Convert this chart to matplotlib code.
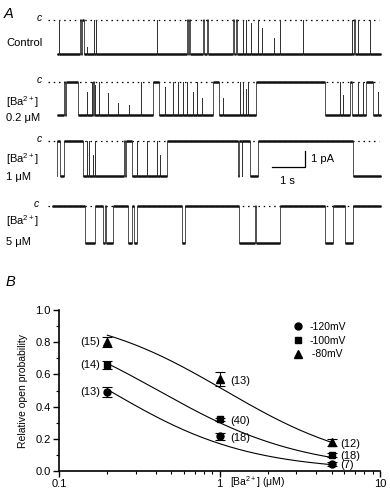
import matplotlib
matplotlib.use("Agg")
import matplotlib.pyplot as plt
from matplotlib.lines import Line2D
import numpy as np

plt.rcParams['font.family'] = ['Liberation Sans', 'DejaVu Sans']
plt.rcParams['mathtext.fontset'] = 'custom'
plt.rcParams['mathtext.rm'] = 'Liberation Sans'
plt.rcParams['mathtext.it'] = 'Liberation Sans:italic'

# ---- panel A: single channel records (time s, open fraction) ----
sweep_end = 9.82
# (start, end, open fraction); base level 1 = open, 0 = closed
control_events = [(0.05, 0.07, 0), (0.69, 0.72, 0), (0.75, 0.82, 0), (0.91, 0.92, 0.8),
                  (1.12, 1.13, 0), (1.17, 1.19, 0), (3.03, 3.04, 0), (3.93, 3.96, 0),
                  (3.99, 4.02, 0), (4.43, 4.45, 0), (4.55, 4.57, 0), (5.32, 5.37, 0),
                  (5.43, 5.45, 0), (5.63, 5.64, 0), (5.72, 5.73, 0), (5.88, 5.89, 0.1),
                  (6.09, 6.10, 0), (6.21, 6.22, 0.25), (6.57, 6.58, 0.55), (6.75, 6.76, 0),
                  (7.45, 7.46, 0), (8.93, 8.94, 0), (9.01, 9.02, 0), (9.12, 9.13, 0),
                  (9.48, 9.49, 0)]
ba02_events = [(0.22, 0.23, 0), (0.27, 0.64, 0), (0.91, 0.92, 0.3), (1.06, 1.07, 0),
               (1.10, 1.11, 0), (1.15, 1.16, 0.1), (1.27, 1.28, 0), (1.54, 1.55, 0.35),
               (1.85, 1.86, 0.65), (2.18, 2.19, 0.7), (2.54, 2.55, 0), (2.91, 3.09, 0),
               (3.27, 3.28, 0.15), (3.51, 3.52, 0), (3.67, 3.68, 0), (3.82, 3.83, 0),
               (3.94, 3.95, 0), (4.12, 4.13, 0.3), (4.24, 4.25, 0), (4.39, 4.40, 0.5),
               (4.73, 4.91, 0), (5.03, 5.04, 0.5), (5.55, 5.56, 0), (5.64, 5.65, 0),
               (5.73, 5.74, 0.2), (5.79, 5.80, 0), (6.03, 8.12, 0), (8.58, 8.59, 0),
               (8.67, 8.68, 0.4), (8.88, 8.94, 0), (9.12, 9.13, 0), (9.27, 9.28, 0),
               (9.36, 9.58, 0), (9.73, 9.74, 0.3)]
ba1_events = [(0.00, 0.08, 0), (0.21, 0.79, 0), (0.91, 0.92, 0), (0.97, 0.98, 0),
              (1.09, 1.10, 0.4), (1.15, 1.16, 0), (2.03, 2.05, 0), (2.09, 2.27, 0),
              (2.42, 2.43, 0), (2.73, 2.74, 0), (3.03, 3.04, 0), (3.12, 3.13, 0.4),
              (3.33, 5.48, 0), (5.50, 5.60, 0), (5.62, 5.85, 0), (6.09, 8.97, 0)]
# base level closed, events are openings
ba5_events = [(0.85, 1.15, 1), (1.39, 1.45, 1), (1.48, 1.70, 1), (2.15, 2.27, 1),
              (2.33, 2.42, 1), (3.79, 3.88, 1), (5.52, 6.00, 1), (6.03, 6.76, 1),
              (8.12, 8.36, 1), (8.73, 8.97, 1)]

trace_events = [control_events, ba02_events, ba1_events, ba5_events]
trace_base = [1, 1, 1, 0]
trace_start = [0.0, 0.0, 0.0, -0.15]
unit_amp = [2.1, 2.05, 2.2, 2.3]   # pA
trace_names = [["Control"], ["[Ba$^{2+}$]", "0.2 μM"], ["[Ba$^{2+}$]", "1 μM"], ["[Ba$^{2+}$]", "5 μM"]]

# ---- panel B: relative open probability ----
ba_conc = [0.2, 1.0, 5.0]
voltages = ["-120mV", "-100mV", " -80mV"]
po_120 = [0.49, 0.215, 0.043]
po_100 = [0.66, 0.32, 0.10]
po_80 = [0.80, 0.57, 0.178]
err_120 = [0.03, 0.02, 0.01]
err_100 = [0.025, 0.012, 0.01]
err_80 = [0.03, 0.045, 0.02]
n_120 = ["(13)", "(18)", "(7)"]
n_100 = ["(14)", "(40)", "(18)"]
n_80 = ["(15)", "(13)", "(12)"]
# Hill fit parameters: IC50 (uM), Hill coefficient
fit_ic50 = [0.205, 0.415, 1.08]
fit_hill = [1.0, 0.96, 1.0]

fig = plt.figure(figsize=(3.9, 5), dpi=100)

# panel A axes in seconds / pA; 33 px per s, 16 px per pA
axA = fig.add_axes([0, 0.5, 1, 0.5])
axA.set_xlim(-57 / 33, 333 / 33)
axA.set_ylim(-250 / 16, 0)
axA.axis('off')

offsets = [-1.25, -5.125, -8.81, -12.875]
c_x = [-0.45, -0.45, -0.45, -0.55]
label_y = [[43], [102, 118], [159, 177], [221, 242]]

for i, events in enumerate(trace_events):
    base = trace_base[i]
    t = [trace_start[i]]
    lev = [base]
    for t0, t1, f in events:
        t += [t0, t1]
        lev += [f, base]
    t.append(sweep_end)
    lev.append(base)
    t = np.array(t)
    y = offsets[i] - unit_amp[i] * np.array(lev)
    axA.plot([-0.27, 9.75], [offsets[i], offsets[i]], color='k', lw=0.9,
             linestyle=(0, (1.2, 3)))
    axA.plot(t, y, drawstyle='steps-post', color='#333333', lw=0.6)
    axA.hlines(y[:-1], t[:-1], t[1:], color='#111111', lw=1.8)
    axA.text(c_x[i], offsets[i] + 0.1, "c", style='italic', fontsize=7.5,
             ha='right', va='center')
    for name, yy in zip(trace_names[i], label_y[i]):
        fig.text(6 / 390, 1 - yy / 500, name, fontsize=8, ha='left', va='center')

# scale bar 1 s / 1 pA
axA.plot([6.52, 7.52, 7.52], [-10.44, -10.44, -9.44], color='k', lw=0.9)
axA.text(7.7, -9.95, "1 pA", fontsize=8, ha='left', va='center')
axA.text(6.97, -11.3, "1 s", fontsize=8, ha='center', va='center')

fig.text(4 / 390, 1 - 14 / 500, "A", fontsize=10.5, style='italic', ha='left', va='center')
fig.text(6 / 390, 1 - 282 / 500, "B", fontsize=10.5, style='italic', ha='left', va='center')

# panel B
ax = fig.add_axes([59 / 390, 29 / 500, 321 / 390, 161 / 500])
ax.set_xscale('log')
ax.set_xlim(0.1, 10)
ax.set_ylim(0, 1.0)
for s in ['top', 'right']:
    ax.spines[s].set_visible(False)
for s in ['left', 'bottom']:
    ax.spines[s].set_linewidth(1.2)

markers = ['o', 's', '^']
sizes = [5, 5, 5.5]
po_all = [po_120, po_100, po_80]
err_all = [err_120, err_100, err_80]
n_all = [n_120, n_100, n_80]
xfit = np.logspace(np.log10(0.2), np.log10(5), 200)
for k in range(3):
    ax.plot(xfit, 1 / (1 + (xfit / fit_ic50[k]) ** fit_hill[k]), color='k', lw=0.8)
    ax.errorbar(ba_conc, po_all[k], yerr=err_all[k], fmt=markers[k], color='k',
                ms=sizes[k], capsize=3.5, elinewidth=0.8, capthick=0.8)
    for j, (xc, yc) in enumerate(zip(ba_conc, po_all[k])):
        if j == 0:
            ax.annotate(n_all[k][j], (xc, yc), xytext=(-5, 0), textcoords='offset points',
                        ha='right', va='center', fontsize=8)
        elif j == 1:
            ax.annotate(n_all[k][j], (xc, yc), xytext=(8, -1), textcoords='offset points',
                        ha='left', va='center', fontsize=8)
        else:
            ax.annotate(n_all[k][j], (xc, yc), xytext=(6, -1), textcoords='offset points',
                        ha='left', va='center', fontsize=8)

handles = [Line2D([], [], marker=markers[k], color='k', linestyle='none', ms=sizes[k])
           for k in range(3)]
ax.legend(handles, voltages, loc='upper left', bbox_to_anchor=(0.705, 0.97), frameon=False,
          fontsize=7.5, handlelength=1.0, handletextpad=0.6, labelspacing=0.35,
          borderpad=0.2)

ax.set_xticks([0.1, 1, 10])
ax.set_xticklabels(['0.1', '1', '10'])
ax.set_yticks(np.arange(0, 1.01, 0.2))
ax.set_yticklabels(['%.1f' % v for v in np.arange(0, 1.01, 0.2)])
ax.set_yticks(np.arange(0.1, 1.0, 0.2), minor=True)
ax.tick_params(which='major', direction='out', length=4, width=1.0, labelsize=8, pad=2)
ax.tick_params(which='minor', direction='out', length=2.5, width=0.8)
ax.tick_params(axis='x', which='minor', labelbottom=False)
ax.set_ylabel("Relative open probability", fontsize=7.5, labelpad=5)
ax.set_xlabel("[Ba$^{2+}$] (μM)", fontsize=7.5)
ax.xaxis.set_label_coords(0.62, -0.02)

fig.savefig("out.png", dpi=100)
